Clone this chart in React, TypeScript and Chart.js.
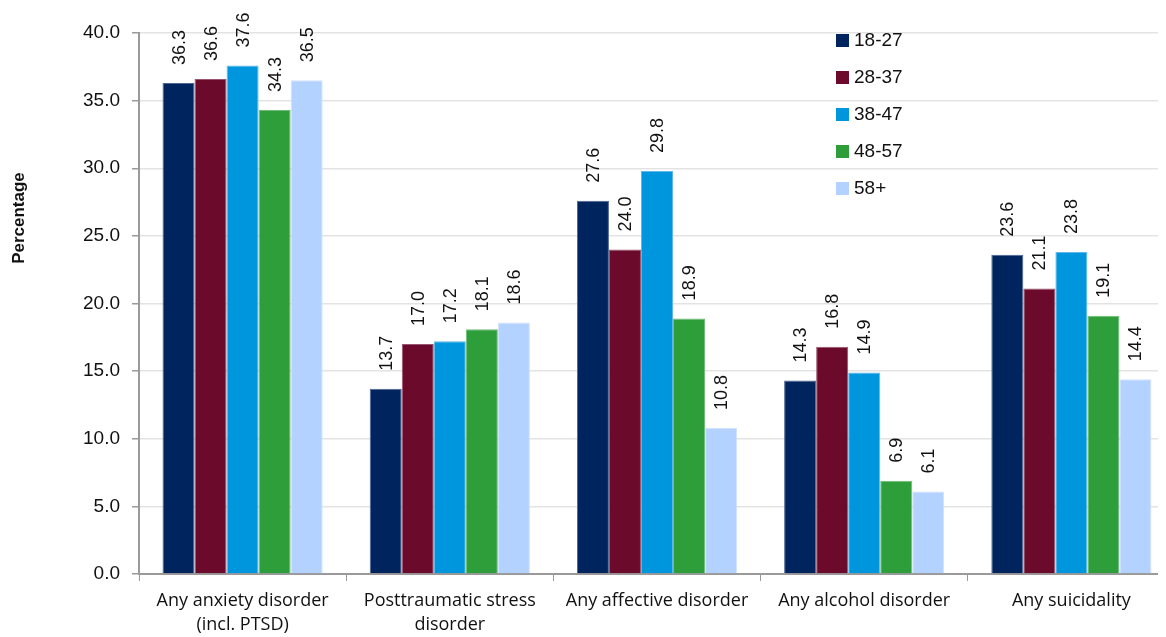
import React, { useEffect, useRef } from "react";
import { Chart, registerables } from "chart.js";

Chart.register(...registerables);

const categories: (string | string[])[] = [
  ["Any anxiety disorder", "(incl. PTSD)"],
  ["Posttraumatic stress", "disorder"],
  "Any affective disorder",
  "Any alcohol disorder",
  "Any suicidality",
];

const seriesNames = ["18-27", "28-37", "38-47", "48-57", "58+"];
const age18_27 = [36.3, 13.7, 27.6, 14.3, 23.6];
const age28_37 = [36.6, 17.0, 24.0, 16.8, 21.1];
const age38_47 = [37.6, 17.2, 29.8, 14.9, 23.8];
const age48_57 = [34.3, 18.1, 18.9, 6.9, 19.1];
const age58plus = [36.5, 18.6, 10.8, 6.1, 14.4];
const seriesValues = [age18_27, age28_37, age38_47, age48_57, age58plus];

const yTitle = "Percentage";

const colors = ["#00245E", "#6C0A2B", "#0096DE", "#2E9E3A", "#B4D2FF"];
const borders = ["#4d6590", "#985470", "#5fb8e8", "#6fbb78", "#d0e2ff"];

const yTicksMin = 0;
const yTicksMax = 40;
const yStep = 5;

const FONT = '"Liberation Sans", Arial, sans-serif';

const valueLabelPlugin = {
  id: "valueLabels",
  afterDatasetsDraw(chart: any) {
    const ctx = chart.ctx;
    ctx.save();
    ctx.font = "18px " + FONT;
    ctx.fillStyle = "#111";
    ctx.textAlign = "left";
    ctx.textBaseline = "middle";
    chart.data.datasets.forEach((ds: any, di: number) => {
      const meta = chart.getDatasetMeta(di);
      meta.data.forEach((bar: any, i: number) => {
        const v = ds.data[i];
        ctx.save();
        ctx.translate(bar.x + 1, bar.y - 18);
        ctx.rotate(-Math.PI / 2);
        ctx.fillText(v.toFixed(1), 0, 0);
        ctx.restore();
      });
    });
    ctx.restore();
  },
};

const legendPlugin = {
  id: "innerLegend",
  afterDraw(chart: any) {
    const ctx = chart.ctx;
    const x0 = 828;
    const y0 = 32;
    const gap = 37;
    ctx.save();
    ctx.font = "19px " + FONT;
    ctx.textBaseline = "middle";
    ctx.textAlign = "left";
    chart.data.datasets.forEach((ds: any, i: number) => {
      const y = y0 + i * gap;
      ctx.fillStyle = ds.backgroundColor;
      ctx.fillRect(x0, y - 6, 13, 13);
      ctx.fillStyle = "#111";
      ctx.fillText(ds.label, x0 + 18, y + 1);
    });
    // y axis title
    ctx.font = "bold 17px " + FONT;
    ctx.textAlign = "center";
    ctx.save();
    ctx.translate(11, 210);
    ctx.rotate(-Math.PI / 2);
    ctx.fillText(yTitle, 0, 0);
    ctx.restore();
    ctx.restore();
  },
};

export default function App() {
  const ref = useRef<HTMLCanvasElement | null>(null);
  useEffect(() => {
    if (!ref.current) return;
    const chart = new Chart(ref.current, {
      type: "bar",
      data: {
        labels: categories,
        datasets: seriesNames.map((name, i) => ({
          label: name,
          data: seriesValues[i],
          backgroundColor: colors[i],
          borderColor: borders[i],
          borderWidth: 1,
          categoryPercentage: 0.773,
          barPercentage: 1,
        })),
      },
      options: {
        animation: false,
        responsive: false,
        maintainAspectRatio: false,
        layout: { padding: { top: 25, left: 0, right: 0, bottom: 0 } },
        plugins: {
          legend: { display: false },
          tooltip: { enabled: false },
        },
        scales: {
          x: {
            offset: true,
            afterFit: (s: any) => {
              s.height = 63;
            },
            grid: {
              offset: true,
              drawOnChartArea: false,
              drawTicks: true,
              tickLength: 7,
              color: "#9a9a9a",
            },
            border: { color: "#9a9a9a", width: 2 },
            ticks: {
              color: "#111",
              font: { family: '"Open Sans", sans-serif', size: 18, lineHeight: 1.38 },
              padding: 7,
              maxRotation: 0,
              autoSkip: false,
            },
          },
          y: {
            min: yTicksMin,
            max: yTicksMax,
            afterFit: (s: any) => {
              s.width = 131;
            },
            ticks: {
              stepSize: yStep,
              color: "#111",
              font: { family: FONT, size: 19 },
              padding: 12,
              callback: (v: any) => Number(v).toFixed(1),
            },
            grid: {
              color: "#e3e3e3",
              lineWidth: 1.5,
              tickLength: 7,
              tickColor: "#9a9a9a",
            },
            border: { color: "#9a9a9a", width: 2 },
            title: { display: false },
          },
        },
      },
      plugins: [valueLabelPlugin, legendPlugin],
    });
    return () => chart.destroy();
  }, []);
  return (
    <div style={{ width: 1158, height: 629, overflow: "hidden" }}>
      <canvas ref={ref} width={1167} height={629} style={{ width: 1167, height: 629, display: "block" }} />
    </div>
  );
}
